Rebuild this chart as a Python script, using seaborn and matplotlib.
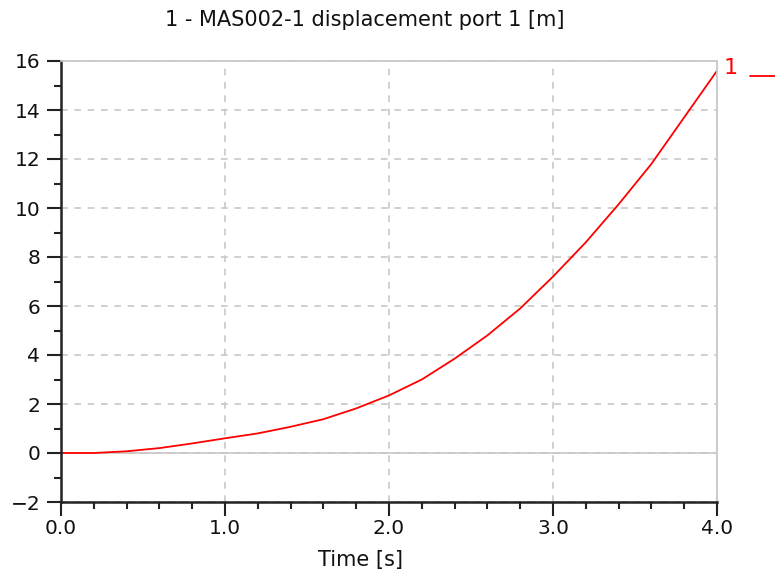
import matplotlib
matplotlib.use("Agg")
import matplotlib.pyplot as plt
import seaborn as sns
import pandas as pd
from matplotlib.ticker import MultipleLocator, FormatStrFormatter

time_s = [0.0, 0.2, 0.4, 0.6, 0.8, 1.0, 1.2, 1.4, 1.6, 1.8, 2.0,
          2.2, 2.4, 2.6, 2.8, 3.0, 3.2, 3.4, 3.6, 3.8, 4.0]
displacement_m = [0.0, 0.0, 0.07, 0.2, 0.39, 0.6, 0.8, 1.07, 1.38, 1.82, 2.35,
                  3.0, 3.85, 4.8, 5.9, 7.2, 8.6, 10.15, 11.8, 13.7, 15.6]
title = "1 - MAS002-1 displacement port 1 [m]"
xlabel = "Time [s]"
legend_label = "1"

df = pd.DataFrame({"t": time_s, "x": displacement_m})

sns.set_style("ticks")
plt.rcParams["font.family"] = ["DejaVu Sans"]

fig = plt.figure(figsize=(7.75, 5.77), dpi=100)
ax = fig.add_axes([61/775, 1-502/577, (717-61)/775, (502-61)/577])

sns.lineplot(data=df, x="t", y="x", ax=ax, color="#ff0000", linewidth=1.3)

ax.set_xlim(0, 4)
ax.set_ylim(-2, 16)
ax.xaxis.set_major_locator(MultipleLocator(1.0))
ax.xaxis.set_minor_locator(MultipleLocator(0.2))
ax.yaxis.set_major_locator(MultipleLocator(2))
ax.yaxis.set_minor_locator(MultipleLocator(1))
ax.xaxis.set_major_formatter(FormatStrFormatter("%.1f"))
ax.tick_params(axis="both", which="major", length=10, width=1.5, color="#222222",
               labelsize=14.5, labelcolor="#111111", direction="out",
               bottom=True, left=True, top=False, right=False)
ax.tick_params(axis="both", which="minor", length=5, width=1.5, color="#222222",
               direction="out", bottom=True, left=True, top=False, right=False)
ax.tick_params(axis="y", which="major", pad=5)
ax.tick_params(axis="x", which="major", pad=2)

ax.grid(True, which="major", linestyle=(0, (4, 4)), color="#c8c8c8", linewidth=1.2)
ax.axhline(0, color="#cccccc", linewidth=1.3, zorder=0.5)

for s in ["left", "bottom"]:
    ax.spines[s].set_color("#222222")
    ax.spines[s].set_linewidth(1.8)
for s in ["top", "right"]:
    ax.spines[s].set_visible(True)
    ax.spines[s].set_color("#c8c8c8")
    ax.spines[s].set_linewidth(1.3)

ax.set_xlabel("")
ax.set_ylabel("")

fig.text(365/775, 1-20/577, title, ha="center", va="center", fontsize=15, color="#111111")
fig.text(361/775, 1-560/577, xlabel, ha="center", va="center", fontsize=15, color="#111111")

fig.text(731/775, 1-68/577, legend_label, ha="center", va="center", fontsize=16, color="#ff0000")
fig.add_artist(plt.Line2D([750/775, 775/775], [1-76/577, 1-76/577], color="#ff0000", linewidth=1.3))

fig.savefig("out.png", dpi=100)
